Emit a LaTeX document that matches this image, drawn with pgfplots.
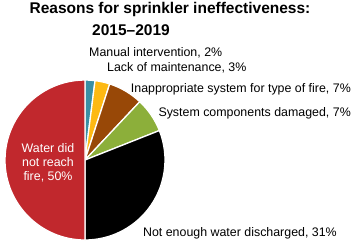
\documentclass[border=0pt]{standalone}
\usepackage{pgfplots}
\pgfplotsset{compat=1.18}
\usepackage{fontspec}
\setmainfont{Liberation Sans}
\definecolor{cteal}{HTML}{3A8FA5}
\definecolor{cyellow}{HTML}{FDB913}
\definecolor{cbrown}{HTML}{984807}
\definecolor{cgreen}{HTML}{8CAF3A}
\definecolor{cred}{HTML}{C1282D}
\newcommand\lbl{\fontsize{12.4bp}{14bp}\selectfont}
\newcommand\ttl{\fontsize{15.5bp}{18bp}\selectfont\bfseries}
\begin{document}
\begin{tikzpicture}
\begin{axis}[width=355bp,height=243bp,scale only axis,
  xmin=0,xmax=355,ymin=0,ymax=243,y dir=reverse,hide axis,clip=false]
\xdef\curang{90}
\foreach \v/\c in {2/cteal,3/cyellow,7/cbrown,7/cgreen,31/black,50/cred}{
  \pgfmathsetmacro\endang{\curang-3.6*\v}
  \edef\temp{\noexpand\fill[\c,draw=white,line width=1.3bp] (axis cs:85,160) -- ++(\curang:80bp) arc[start angle=\curang,end angle=\endang,radius=80bp] -- cycle;}
  \temp
  \xdef\curang{\endang}
}
\node[anchor=base,font=\ttl,inner sep=0pt] at (axis cs:170,14) {Reasons for sprinkler ineffectiveness:};
\node[anchor=base,font=\ttl,inner sep=0pt] at (axis cs:131,35) {2015--2019};
\node[anchor=base west,font=\lbl,inner sep=0pt] at (axis cs:89,56) {Manual intervention, 2\%};
\node[anchor=base west,font=\lbl,inner sep=0pt] at (axis cs:107,71) {Lack of maintenance, 3\%};
\node[anchor=base east,font=\lbl,inner sep=0pt] at (axis cs:351,92) {Inappropriate system for type of fire, 7\%};
\node[anchor=base east,font=\lbl,inner sep=0pt] at (axis cs:351,116) {System components damaged, 7\%};
\node[anchor=base east,font=\lbl,inner sep=0pt] at (axis cs:337,236) {Not enough water discharged, 31\%};
\node[anchor=base,font=\lbl,text=white,inner sep=0pt] at (axis cs:48,152) {Water did};
\node[anchor=base,font=\lbl,text=white,inner sep=0pt] at (axis cs:48,166) {not reach};
\node[anchor=base,font=\lbl,text=white,inner sep=0pt] at (axis cs:48,180) {fire, 50\%};
\end{axis}
\pgfresetboundingbox
\path (current axis.south west) rectangle (current axis.north east);
\end{tikzpicture}
\end{document}
